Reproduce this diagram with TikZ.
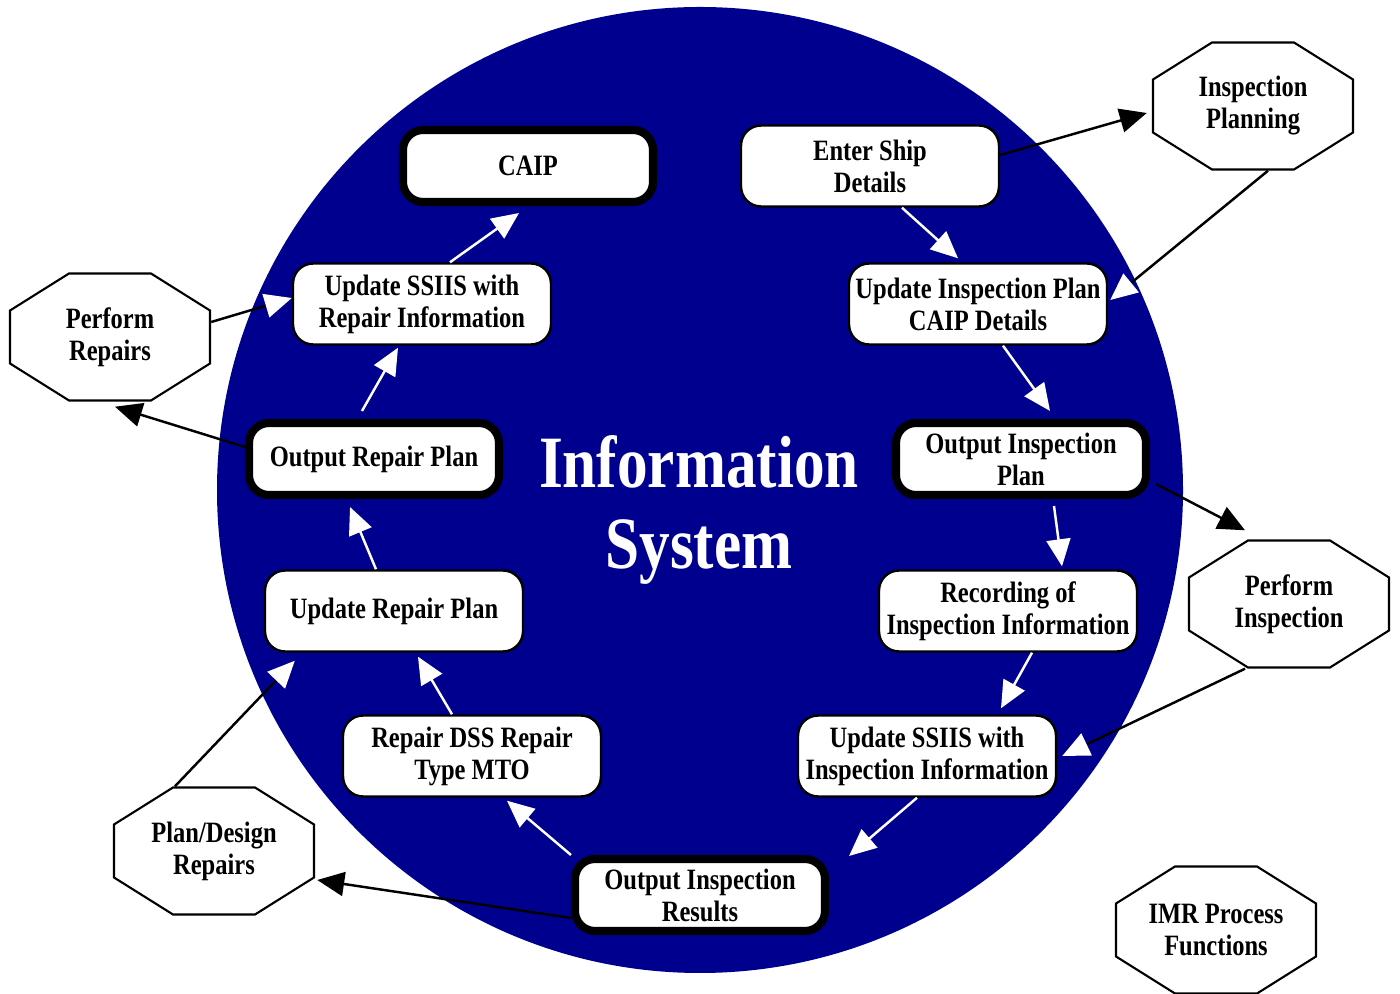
\documentclass[tikz,border=0pt]{standalone}
\usepackage{fontspec}
\setmainfont{Liberation Serif}[FakeStretch=0.83]
\usetikzlibrary{arrows.meta}
\definecolor{isblue}{RGB}{0,0,143}
\begin{document}
\begin{tikzpicture}[
        line width=0.7pt,
        every node/.style={font=\bfseries\fontsize{8.4}{9.1}\selectfont, align=center},
        procbox/.style={draw, fill=white, rounded corners=2mm, line width=0.7pt,
            minimum width=2.58cm, minimum height=0.81cm, inner sep=1pt},
        keybox/.style={procbox, line width=2.3pt, minimum width=2.5cm, minimum height=0.72cm},
        func/.style={minimum width=2cm, minimum height=1.27cm, inner sep=1pt,
            append after command={\pgfextra{
              \draw[line width=0.6pt]
                ([shift={(-0.41,0.635)}]\tikzlastnode.center) -- ([shift={(0.41,0.635)}]\tikzlastnode.center)
                -- ([shift={(1,0.265)}]\tikzlastnode.center) -- ([shift={(1,-0.265)}]\tikzlastnode.center)
                -- ([shift={(0.41,-0.635)}]\tikzlastnode.center) -- ([shift={(-0.41,-0.635)}]\tikzlastnode.center)
                -- ([shift={(-1,-0.265)}]\tikzlastnode.center) -- ([shift={(-1,0.265)}]\tikzlastnode.center)
                -- cycle;}}},
        flow/.style={white, -{Triangle[length=2.7mm,width=2.4mm]}},
        link/.style={black, -{Triangle[length=2.7mm,width=2.4mm]}},
        linkin/.style={black, -{Triangle[length=2.7mm,width=2.4mm,color=white]}}
    ]
    \useasboundingbox (0,0) rectangle (14,-9.94);
    % The information system disc
    \fill[isblue] (7.0,-4.9) circle (4.83);
    \node[white, font=\bfseries\fontsize{21}{23.2}\selectfont] (title) at (6.99,-5.1)
        {Information\\System};

    % Inspection side (right)
    \node[procbox] (ship) at (8.70,-1.66) {Enter Ship\\Details};
    \node[procbox] (updplan) at (9.78,-3.04) {Update Inspection Plan\\CAIP Details};
    \node[keybox] (outplan) at (10.21,-4.59) {Output Inspection\\Plan};
    \node[procbox] (record) at (10.08,-6.11) {Recording of\\Inspection Information};
    \node[procbox] (updinsp) at (9.27,-7.56) {Update SSIIS with\\Inspection Information};
    \node[keybox] (outres) at (7.00,-8.95) {Output Inspection\\Results};

    % Repair side (left)
    \node[procbox] (dss) at (4.72,-7.56) {Repair DSS Repair\\Type MTO};
    \node[procbox] (updrep) at (3.94,-6.11) {Update Repair Plan};
    \node[keybox] (outrep) at (3.74,-4.59) {Output Repair Plan};
    \node[procbox] (updssiis) at (4.22,-3.04) {Update SSIIS with\\Repair Information};
    \node[keybox] (caip) at (5.28,-1.66) {CAIP};

    % IMR process functions
    \node[func] (insplan) at (12.53,-1.06) {Inspection\\Planning};
    \node[func] (perfinsp) at (12.89,-6.04) {Perform\\Inspection};
    \node[func] (plandesign) at (2.14,-8.51) {Plan/Design\\Repairs};
    \node[func] (perfrep) at (1.10,-3.37) {Perform\\Repairs};
    \node[func] (imr) at (12.16,-9.30) {IMR Process\\Functions};

    % Flow round the disc
    \draw[flow] ([xshift=3.2mm]ship.south) -- ([xshift=-2mm,yshift=0.4mm]updplan.north);
    \draw[flow] ([xshift=2.5mm]updplan.south) -- ([xshift=2.9mm,yshift=0.8mm]outplan.north);
    \draw[flow] ([xshift=3.3mm,yshift=-0.7mm]outplan.south) -- ([xshift=5.4mm,yshift=0.3mm]record.north);
    \draw[flow] ([xshift=2.4mm]record.south) -- ([xshift=7.4mm,yshift=0.6mm]updinsp.north);
    \draw[flow] ([xshift=-1mm]updinsp.south) -- ([xshift=2mm,yshift=-0.1mm]outres.north east);
    \draw[flow] (outres.north west) -- ([xshift=3.5mm,yshift=-0.3mm]dss.south);
    \draw[flow] ([xshift=-2mm]dss.north) -- ([xshift=2.4mm,yshift=-0.4mm]updrep.south);
    \draw[flow] ([xshift=-1.8mm]updrep.north) -- ([xshift=-2.4mm,yshift=-0.8mm]outrep.south);
    \draw[flow] ([xshift=-1.2mm,yshift=0.8mm]outrep.north) -- ([xshift=-2.4mm,yshift=-0.2mm]updssiis.south);
    \draw[flow] ([xshift=2.8mm]updssiis.north) -- ([xshift=-0.9mm,yshift=-0.7mm]caip.south);

    % Links to the process functions
    \draw[link] ([yshift=1.1mm]ship.east) -- ([xshift=-0.5mm,yshift=-0.7mm]insplan.west);
    \draw[linkin] ([xshift=1.5mm]insplan.south) -- ([xshift=0.2mm,yshift=0.4mm]updplan.east);
    \draw[link] ([xshift=0.6mm,yshift=-2.5mm]outplan.east) -- ([xshift=-4.4mm,yshift=0.9mm]perfinsp.north);
    \draw[linkin] ([xshift=-4.4mm]perfinsp.south) -- ([xshift=0.5mm]updinsp.east);
    \draw[link] ([yshift=-2.3mm]outres.west) -- ([xshift=0.2mm,yshift=-2.9mm]plandesign.east);
    \draw[linkin] ([xshift=-3.9mm]plandesign.north) -- ([xshift=3.1mm,yshift=-0.8mm]updrep.south west);
    \draw[link] ([yshift=1.2mm]outrep.west) -- ([xshift=0.5mm,yshift=-0.5mm]perfrep.south);
    \draw[linkin] ([yshift=1.5mm]perfrep.east) -- ([yshift=0.6mm]updssiis.west);
\end{tikzpicture}
\end{document}
